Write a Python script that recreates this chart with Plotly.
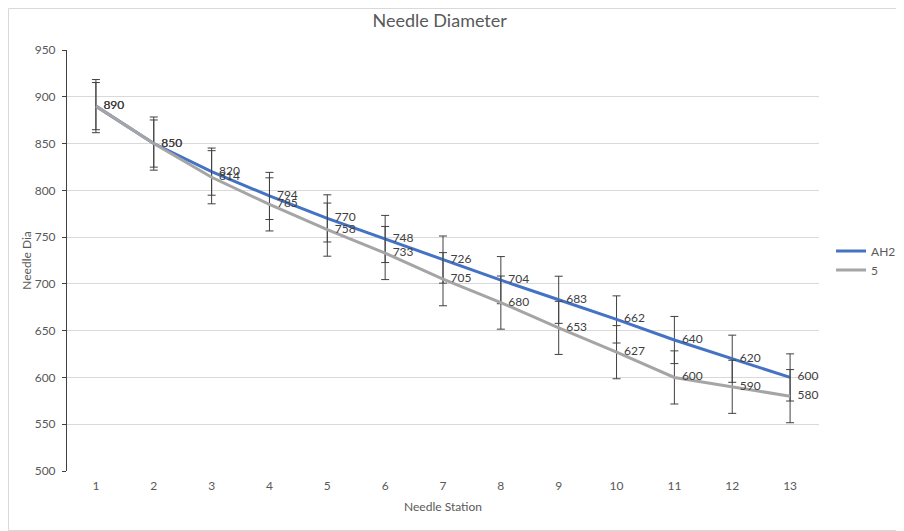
import plotly.graph_objects as go

stations = [1, 2, 3, 4, 5, 6, 7, 8, 9, 10, 11, 12, 13]
ah2 = [890, 850, 820, 794, 770, 748, 726, 704, 683, 662, 640, 620, 600]
s5 = [890, 850, 814, 785, 758, 733, 705, 680, 653, 627, 600, 590, 580]
err_ah2 = 25.2
err_s5 = 28.4
y_ticks = [500, 550, 600, 650, 700, 750, 800, 850, 900, 950]

FONT = "Lato"
TXT = "#595959"
PAD = "\u2002\u2009"  # gap between point and its label, as in the original

fig = go.Figure()
fig.add_trace(go.Scatter(
    x=stations, y=ah2, name="AH2", mode="lines+text",
    line=dict(color="#4472C4", width=3),
    text=[PAD + str(v) for v in ah2], textposition="middle right",
    textfont=dict(family=FONT, size=12, color="#404040"),
    error_y=dict(type="constant", value=err_ah2, color="#404040", thickness=1, width=4),
))
fig.add_trace(go.Scatter(
    x=stations, y=s5, name="5", mode="lines+text",
    line=dict(color="#A5A5A5", width=3),
    text=[PAD + str(v) for v in s5], textposition="middle right",
    textfont=dict(family=FONT, size=12, color="#404040"),
    error_y=dict(type="constant", value=err_s5, color="#404040", thickness=1, width=4),
))

OFF = 8  # page body margin
W, H = 904 - OFF, 531 - OFF
L, T = 67 - OFF, 50 - OFF
R, B = 904 - 819, 531 - 471
pw, ph = W - L - R, H - T - B

fig.update_layout(
    width=W, height=H,
    margin=dict(l=L, r=R, t=T, b=B, autoexpand=False),
    paper_bgcolor="white", plot_bgcolor="white",
    font=dict(family=FONT, size=12, color=TXT),
    title=dict(text="Needle Diameter", x=(452 - OFF) / W, xanchor="center", y=1 - (21 - OFF) / H, yanchor="middle",
               xref="paper", font=dict(family=FONT, size=18, color=TXT)),
    xaxis=dict(range=[0.5, 13.5], tickmode="array", tickvals=stations, ticktext=[str(s) for s in stations],
               showgrid=False, zeroline=False, showline=False, ticks="",
               ticklabelstandoff=6,
               title=dict(text="Needle Station", font=dict(size=12, color=TXT), standoff=10),
               tickfont=dict(size=12, color=TXT)),
    yaxis=dict(range=[500, 950], tickvals=y_ticks, showgrid=True, gridcolor="#D9D9D9", gridwidth=1,
               zeroline=False, showline=True, linecolor="#404040", linewidth=1,
               ticks="outside", ticklen=4, tickcolor="#404040",
               ticklabelstandoff=4,
               title=dict(text="Needle Dia", font=dict(size=12, color=TXT), standoff=0),
               tickfont=dict(size=12, color=TXT)),
    legend=dict(x=1.016, xanchor="left", y=0.5, yanchor="middle", bgcolor="rgba(0,0,0,0)",
                font=dict(size=12, color=TXT), itemwidth=30, tracegroupgap=2),
    showlegend=True,
)

# outer chart border
fig.add_shape(type="rect", xref="paper", yref="paper",
              x0=(-L + 0.5) / pw, x1=(W - L - 0.5) / pw, y0=(-B + 0.5) / ph, y1=1 + (T - 0.5) / ph,
              line=dict(color="#D9D9D9", width=1), fillcolor="rgba(0,0,0,0)", layer="below")

fig.write_html("out.html")
